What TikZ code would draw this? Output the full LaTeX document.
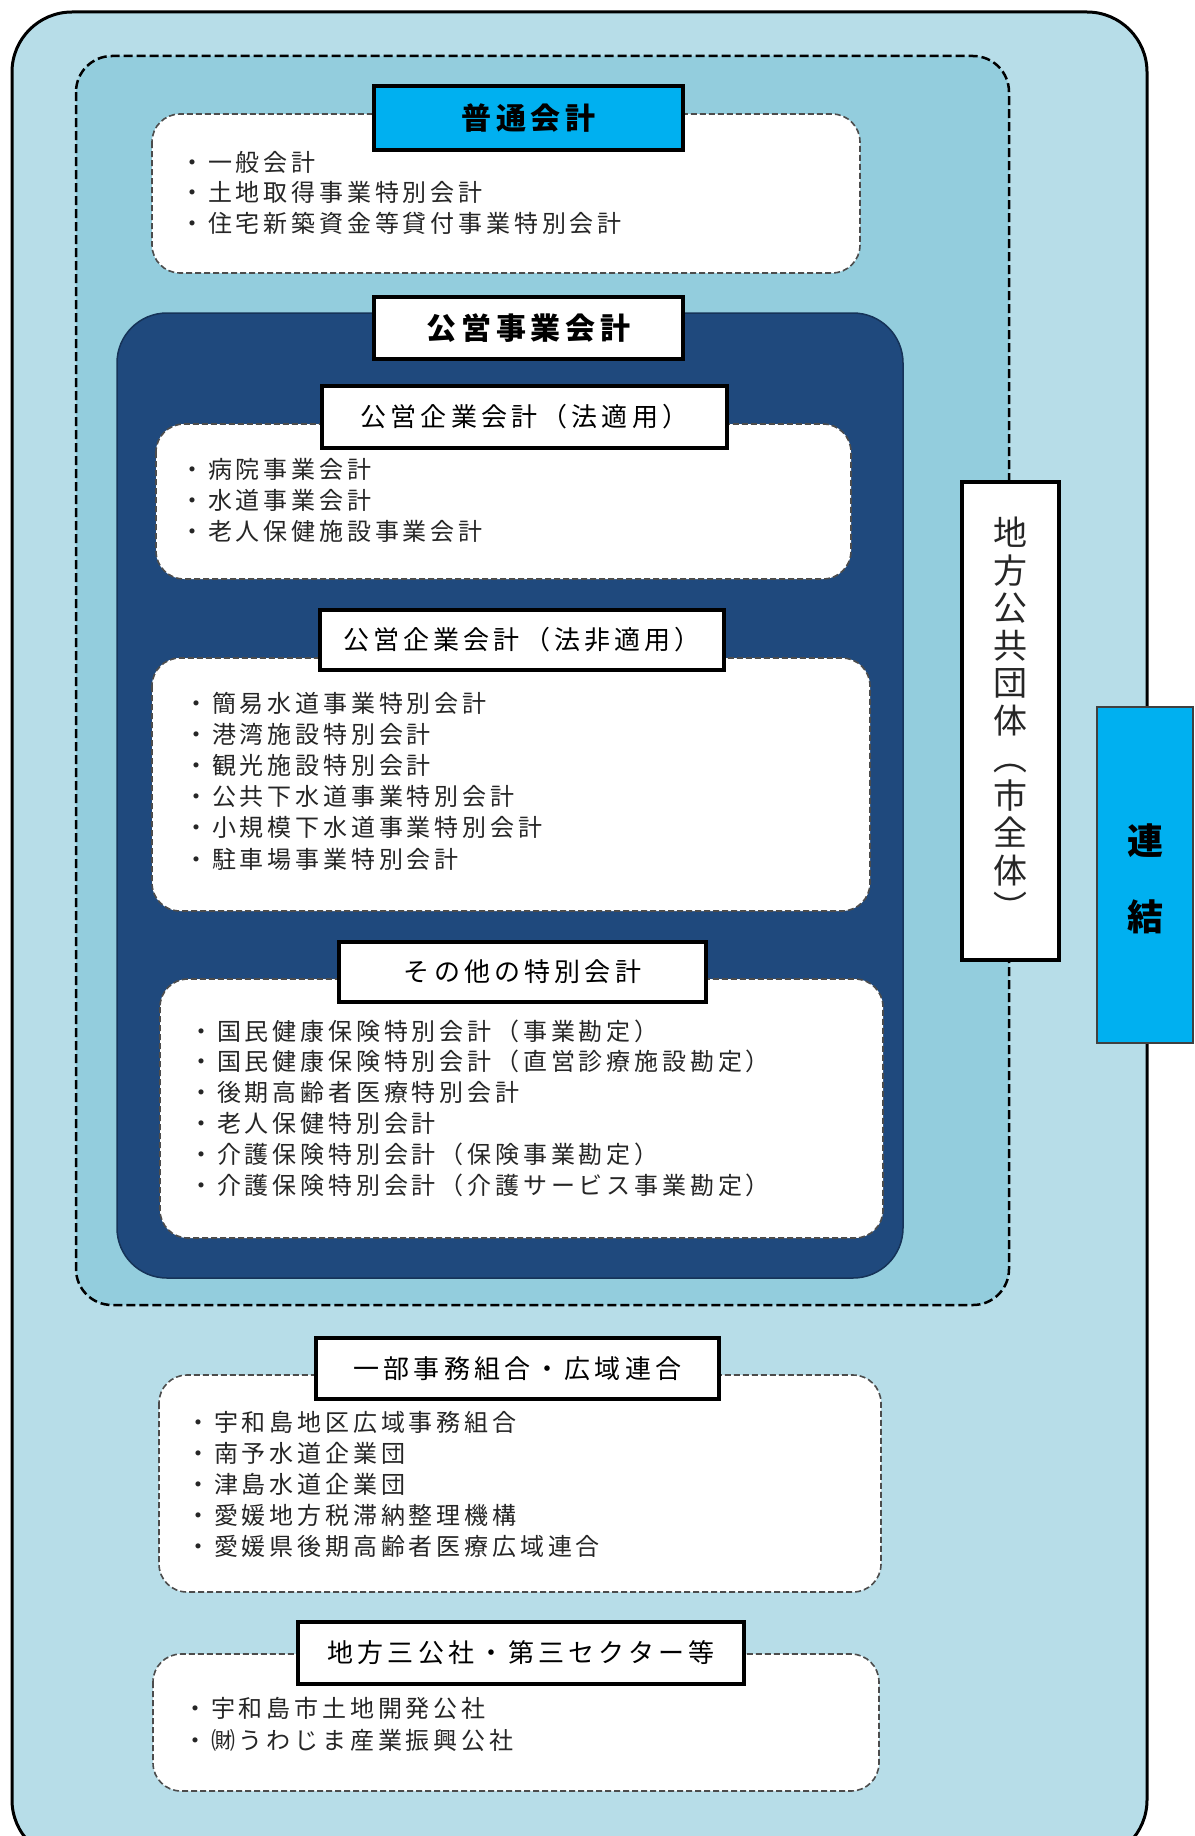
\documentclass[tikz,border=0pt]{standalone}
\usepackage{graphicx}
\usepackage{fontspec}
\newfontfamily\jp{Noto Sans CJK JP}[LetterSpace=16]
\newfontfamily\jpv{Noto Sans CJK JP}
\definecolor{outerbg}{HTML}{B7DDE8}
\definecolor{midbg}{HTML}{93CDDD}
\definecolor{navybg}{HTML}{1F497D}
\definecolor{cyanbox}{HTML}{00B0F0}
\tikzset{
  itm/.style={font=\jp\fontsize{24}{24}\selectfont, inner sep=0pt, anchor=west, text=black!85},
  hdr/.style={draw=black, line width=4pt, fill=white, inner sep=0pt, font=\jp\fontsize{26}{26}\selectfont},
  hdrb/.style={hdr, font=\jp\bfseries\fontsize{30}{30}\selectfont},
  wbox/.style={draw=black!70, dash pattern=on 6pt off 3pt, line width=1.6pt, fill=white, rounded corners=28pt},
}
\newcommand\itemlist[5]{%
  \foreach \t [count=\i] in {#5} {
    \node[itm] (#1-\i) at (#2, {#3+(\i-1)*#4}) {・\t};
  }%
}
\newcommand\vparen[1]{\rotatebox[origin=c]{-90}{#1}}
\begin{document}
\begin{tikzpicture}[x=1pt,y=-1pt]
\useasboundingbox (0,0) rectangle (1194,1836);
\clip (0,0) rectangle (1194,1836);
% outer container
\draw[fill=outerbg, draw=black, line width=3pt, rounded corners=60pt] (12,12) rectangle (1147,1860);
% dashed region (local government)
\draw[fill=midbg, draw=black, line width=2.5pt, dash pattern=on 9pt off 4pt, rounded corners=36pt] (76,56) rectangle (1009,1305);

% general accounts
\draw[wbox] (152,114) rectangle (860,273);
\node[hdrb, fill=cyanbox, minimum width=309pt, minimum height=64pt] (h1) at (528.5,118) {普通会計};
\itemlist{g}{180}{162}{30.5}{一般会計,土地取得事業特別会計,住宅新築資金等貸付事業特別会計}

% public enterprise
\draw[fill=navybg, draw=navybg!70!black, line width=1.5pt, rounded corners=50pt] (117,313) rectangle (903,1278);
\node[hdrb, minimum width=309pt, minimum height=62pt] (h2) at (528.5,328) {公営事業会計};

\draw[wbox] (156,424) rectangle (851,579);
\node[hdr, minimum width=405pt, minimum height=62pt] (h3) at (524.5,417) {公営企業会計（法適用）};
\itemlist{a}{180}{469}{31}{病院事業会計,水道事業会計,老人保健施設事業会計}

\draw[wbox] (152,658) rectangle (870,911);
\node[hdr, minimum width=404pt, minimum height=60pt] (h4) at (522,640) {公営企業会計（法非適用）};
\itemlist{b}{184}{703}{31.2}{簡易水道事業特別会計,港湾施設特別会計,観光施設特別会計,公共下水道事業特別会計,小規模下水道事業特別会計,駐車場事業特別会計}

\draw[wbox] (160,979) rectangle (883,1238);
\node[hdr, minimum width=367pt, minimum height=60pt] (h5) at (522.5,972) {その他の特別会計};
\itemlist{c}{189}{1031}{30.8}{国民健康保険特別会計（事業勘定）,国民健康保険特別会計（直営診療施設勘定）,後期高齢者医療特別会計,老人保健特別会計,介護保険特別会計（保険事業勘定）,介護保険特別会計（介護サービス事業勘定）}

% partial affairs associations
\draw[wbox] (159,1375) rectangle (881,1592);
\node[hdr, minimum width=403pt, minimum height=61pt] (h6) at (517.5,1368.5) {一部事務組合・広域連合};
\itemlist{d}{186}{1422}{31}{宇和島地区広域事務組合,南予水道企業団,津島水道企業団,愛媛地方税滞納整理機構,愛媛県後期高齢者医療広域連合}

% third sector
\draw[wbox] (153,1654) rectangle (879,1791);
\node[hdr, minimum width=446pt, minimum height=62pt] (h7) at (521,1653) {地方三公社・第三セクター等};
\itemlist{e}{183}{1708}{32}{宇和島市土地開発公社,㈶うわじま産業振興公社}

% vertical label
\node[draw=black, line width=4pt, fill=white, inner sep=0pt, minimum width=97pt, minimum height=478pt] (lg) at (1010.5,721) {};
\node[font=\jpv\fontsize{34}{37.5}\selectfont, align=center, inner sep=0pt, text=black!85] (lgt) at (lg.center) {地\\方\\公\\共\\団\\体\\\vparen{（}\\市\\全\\体\\\vparen{）}};

% consolidation
\node[draw=black!75, line width=2.5pt, fill=cyanbox, inner sep=0pt, minimum width=96pt, minimum height=336pt] (rk) at (1145,875) {};
\node[font=\jpv\bfseries\fontsize{36}{76}\selectfont, align=center, inner sep=0pt] (rkt) at ([yshift=-4pt]rk.center) {連\\結};
\end{tikzpicture}
\end{document}
